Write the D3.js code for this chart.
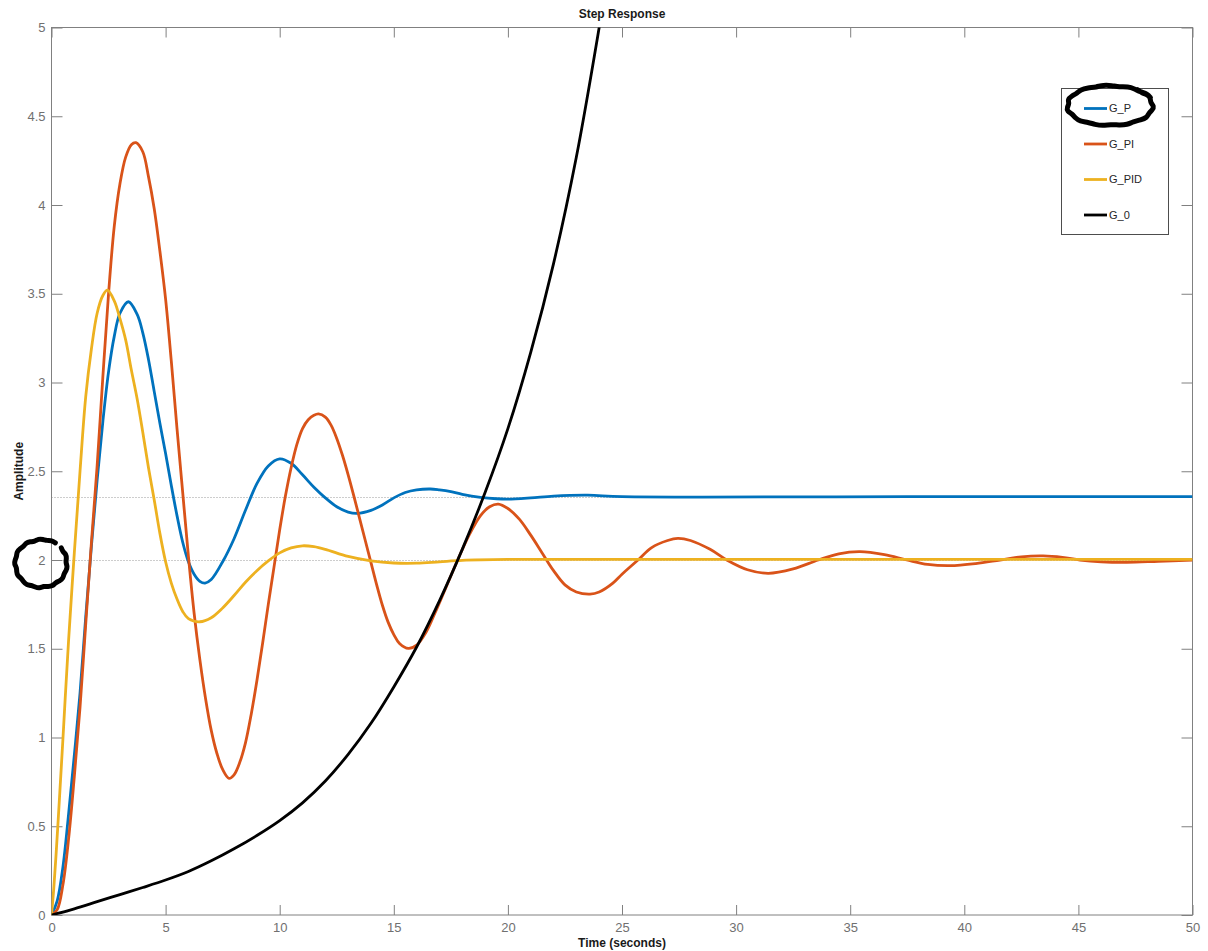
<!DOCTYPE html>
<html>
<head>
<meta charset="utf-8">
<script src="https://cdn.jsdelivr.net/npm/d3@7"></script>
<style>
  body { margin: 0; background: #fff; }
  svg { display: block; font-family: "Liberation Sans", Arial, sans-serif; }
</style>
</head>
<body>
<svg id="chart"></svg>
<script>
// step response samples: [time (s), amplitude]
const gP = [[0,0],[0.25,0.08],[0.5,0.27],[0.75,0.57],[1.0,0.90],[1.25,1.25],[1.5,1.68],[1.75,2.08],[2.0,2.45],[2.25,2.78],[2.5,3.06],[2.75,3.26],[3.0,3.39],[3.37,3.455],[3.75,3.385],[4.0,3.28],[4.25,3.13],[4.5,2.95],[4.75,2.77],[5.0,2.60],[5.25,2.42],[5.5,2.25],[5.75,2.10],[6.0,1.99],[6.25,1.92],[6.5,1.88],[6.73,1.87],[7.0,1.89],[7.5,1.99],[8.0,2.12],[8.5,2.28],[9.0,2.43],[9.5,2.53],[10.0,2.57],[10.5,2.545],[11.0,2.48],[11.5,2.41],[12.0,2.35],[12.5,2.30],[13.0,2.27],[13.4,2.263],[14.0,2.28],[14.5,2.31],[15.0,2.35],[15.5,2.38],[16.0,2.395],[16.6,2.40],[17.0,2.395],[17.5,2.385],[18.0,2.37],[18.8,2.353],[19.5,2.345],[20.0,2.343],[21.0,2.35],[22.0,2.36],[23.5,2.365],[25.0,2.357],[37.5,2.357],[50,2.357]];
const gPI = [[0,0],[0.25,0.03],[0.5,0.17],[0.75,0.43],[1.0,0.78],[1.25,1.17],[1.5,1.64],[1.75,2.10],[2.0,2.53],[2.25,3.03],[2.5,3.50],[2.75,3.88],[3.0,4.12],[3.25,4.27],[3.5,4.34],[3.7,4.351],[4.0,4.30],[4.25,4.16],[4.5,3.98],[4.75,3.74],[5.0,3.47],[5.25,3.12],[5.5,2.74],[5.75,2.38],[6.0,2.02],[6.25,1.70],[6.5,1.44],[6.75,1.22],[7.0,1.04],[7.25,0.91],[7.5,0.82],[7.78,0.77],[8.0,0.79],[8.25,0.86],[8.5,0.97],[8.75,1.13],[9.0,1.32],[9.25,1.53],[9.5,1.75],[9.75,1.96],[10.0,2.17],[10.25,2.36],[10.5,2.52],[10.75,2.65],[11.0,2.74],[11.25,2.79],[11.5,2.815],[11.7,2.823],[12.0,2.805],[12.25,2.76],[12.5,2.685],[12.75,2.59],[13.0,2.48],[13.25,2.36],[13.5,2.235],[13.75,2.11],[14.0,1.985],[14.25,1.86],[14.5,1.745],[14.75,1.65],[15.0,1.58],[15.25,1.53],[15.64,1.502],[16.0,1.52],[16.4,1.59],[16.8,1.70],[17.3,1.85],[17.8,2.0],[18.3,2.14],[18.8,2.25],[19.2,2.30],[19.58,2.315],[20.0,2.29],[20.5,2.23],[21.0,2.14],[21.5,2.04],[22.0,1.94],[22.5,1.86],[23.0,1.82],[23.6,1.808],[24.0,1.82],[24.6,1.87],[25.0,1.92],[25.7,2.0],[26.3,2.07],[27.0,2.11],[27.45,2.122],[28.0,2.11],[28.86,2.06],[29.59,2.0],[30.5,1.945],[31.41,1.925],[32.5,1.95],[33.6,2.0],[34.5,2.035],[35.43,2.047],[36.5,2.03],[37.48,2.0],[38.4,1.975],[39.37,1.968],[40.5,1.98],[41.56,2.0],[42.5,2.018],[43.46,2.023],[44.3,2.015],[45.07,2.0],[46.0,1.99],[47.12,1.987],[48.5,1.993],[50,2.0]];
const gPID = [[0,0],[0.1,0.15],[0.2,0.34],[0.3,0.55],[0.4,0.77],[0.5,0.99],[0.6,1.22],[0.75,1.55],[1.0,2.04],[1.25,2.50],[1.5,2.92],[1.75,3.19],[2.0,3.39],[2.25,3.49],[2.45,3.52],[2.75,3.46],[3.0,3.36],[3.25,3.24],[3.5,3.07],[3.75,2.91],[4.0,2.72],[4.25,2.52],[4.5,2.34],[4.75,2.15],[5.0,1.99],[5.25,1.87],[5.5,1.78],[5.75,1.71],[6.0,1.67],[6.5,1.652],[7.0,1.675],[7.5,1.73],[8.0,1.80],[8.5,1.875],[9.0,1.94],[9.5,1.995],[10.0,2.04],[10.5,2.068],[11.0,2.08],[11.5,2.075],[12.0,2.06],[13.0,2.02],[14.0,1.995],[15.0,1.983],[16.0,1.982],[17.0,1.99],[18.0,1.998],[20.0,2.003],[25.0,2.003],[37.5,2.003],[50,2.003]];
const g0 = [[0,0],[1,0.035],[2,0.075],[3,0.115],[4,0.155],[5,0.197],[6,0.245],[7,0.305],[8,0.373],[9,0.448],[10,0.532],[11,0.632],[12,0.755],[13,0.905],[14,1.08],[15,1.285],[16,1.51],[17,1.77],[18,2.06],[19,2.38],[20,2.74],[21,3.17],[22,3.67],[23,4.27],[24,5.0],[24.5,5.4]];
// steady state reference levels (dotted)
const steadyLevels = [2.357, 2.0];
const seriesNames = ["G_P", "G_PI", "G_PID", "G_0"];
const seriesData = [gP, gPI, gPID, g0];
const colors = ["#0072BD", "#D95319", "#EDB120", "#000000"];
const xTicks = [0, 5, 10, 15, 20, 25, 30, 35, 40, 45, 50];
const yTicks = [0, 0.5, 1, 1.5, 2, 2.5, 3, 3.5, 4, 4.5, 5];

const svgWidth = 1208, svgHeight = 951;
const margin = {top: 27.5, right: 15.5, bottom: 36, left: 51.5},
    width = svgWidth - margin.left - margin.right,
    height = svgHeight - margin.top - margin.bottom;
const axisColor = "#808080";

const chart = d3.select("#chart")
    .attr("width", svgWidth)
    .attr("height", svgHeight);

var xScale = d3.scaleLinear().domain([0, 50]).range([margin.left, margin.left + width]);
var yScale = d3.scaleLinear().domain([0, 5]).range([margin.top + height, margin.top]);

chart.append("clipPath").attr("id", "plotClip")
  .append("rect")
    .attr("x", margin.left).attr("y", margin.top)
    .attr("width", width).attr("height", height);

// dotted steady-state lines
chart.append("g").selectAll("line")
  .data(steadyLevels)
  .join("line")
    .attr("x1", xScale(0)).attr("x2", xScale(50))
    .attr("y1", d => Math.round(yScale(d)) + 0.5)
    .attr("y2", d => Math.round(yScale(d)) + 0.5)
    .attr("stroke", "#9a9a9a")
    .attr("stroke-width", 1)
    .attr("stroke-dasharray", "1,2");

// axes: ticks inward on all four sides
function styleAxis(g) {
  g.select(".domain").remove();
  g.selectAll(".tick line").attr("stroke", axisColor);
  g.selectAll(".tick text").attr("fill", "#707070").attr("font-size", 13);
}
chart.append("g")
  .attr("transform", `translate(0,${yScale(0)})`)
  .call(d3.axisBottom(xScale).tickValues(xTicks).tickSizeInner(-10).tickPadding(8).tickFormat(d3.format("d")))
  .call(styleAxis);
chart.append("g")
  .attr("transform", `translate(0,${yScale(5)})`)
  .call(d3.axisTop(xScale).tickValues(xTicks).tickSizeInner(-10).tickFormat(""))
  .call(styleAxis);
chart.append("g")
  .attr("transform", `translate(${xScale(0)},0)`)
  .call(d3.axisLeft(yScale).tickValues(yTicks).tickSizeInner(-11).tickPadding(6).tickFormat(d => String(d)))
  .call(styleAxis);
chart.append("g")
  .attr("transform", `translate(${xScale(50)},0)`)
  .call(d3.axisRight(yScale).tickValues(yTicks).tickSizeInner(-11).tickFormat(""))
  .call(styleAxis);

// box
chart.append("rect")
  .attr("x", xScale(0)).attr("y", yScale(5))
  .attr("width", xScale(50) - xScale(0)).attr("height", yScale(0) - yScale(5))
  .attr("fill", "none").attr("stroke", axisColor).attr("stroke-width", 1);

// response curves
var valueline = d3.line()
    .x(d => xScale(d[0]))
    .y(d => yScale(d[1]))
    .curve(d3.curveCatmullRom.alpha(0.5));

chart.append("g").attr("clip-path", "url(#plotClip)")
  .selectAll("path")
  .data(seriesData)
  .join("path")
    .attr("d", valueline)
    .attr("fill", "none")
    .attr("stroke", (d, i) => colors[i])
    .attr("stroke-width", 2.8)
    .attr("stroke-linejoin", "round");

// titles
chart.append("text")
  .attr("x", (xScale(0) + xScale(50)) / 2).attr("y", 18)
  .attr("text-anchor", "middle").attr("font-size", 12).attr("font-weight", "bold")
  .attr("fill", "#1a1a1a")
  .text("Step Response");
chart.append("text")
  .attr("x", (xScale(0) + xScale(50)) / 2).attr("y", 947)
  .attr("text-anchor", "middle").attr("font-size", 12).attr("font-weight", "bold")
  .attr("fill", "#1a1a1a")
  .text("Time (seconds)");
chart.append("text")
  .attr("transform", `translate(23,${(yScale(0) + yScale(5)) / 2}) rotate(-90)`)
  .attr("text-anchor", "middle").attr("font-size", 12).attr("font-weight", "bold")
  .attr("fill", "#1a1a1a")
  .text("Amplitude");

// legend
const legend = chart.append("g").attr("transform", "translate(1061,88)");
legend.append("rect")
  .attr("x", 0.5).attr("y", 0.5).attr("width", 107).attr("height", 146)
  .attr("fill", "#fff").attr("stroke", "#4d4d4d").attr("stroke-width", 1);
const items = legend.selectAll("g.item")
  .data(seriesNames)
  .join("g")
    .attr("class", "item")
    .attr("transform", (d, i) => `translate(0,${20.5 + i * 35.5})`);
items.append("line")
  .attr("x1", 23).attr("x2", 46)
  .attr("stroke", (d, i) => colors[i]).attr("stroke-width", 2.8);
items.append("text")
  .attr("x", 48).attr("dy", "0.36em")
  .attr("font-size", 11).attr("fill", "#262626")
  .text(d => d);

// hand-drawn marker circles (annotations)
const scribble = d3.line().curve(d3.curveBasis);
function loop(cx, cy, rx, ry, a0, a1, wob) {
  const pts = [];
  for (let k = 0; k <= 36; k++) {
    const a = a0 + (a1 - a0) * k / 36;
    const r = 1 + wob[k % wob.length];
    pts.push([cx + rx * r * Math.cos(a), cy + ry * r * Math.sin(a)]);
  }
  return pts;
}
const wobble = [0.02, -0.03, 0.04, 0.0, -0.05, 0.03, 0.01, -0.02, 0.05];
chart.append("path")
  .attr("d", scribble(loop(1110, 105.5, 43, 20, -0.9, -0.9 + 2 * Math.PI + 0.5, wobble)))
  .attr("fill", "none").attr("stroke", "#000").attr("stroke-width", 5).attr("stroke-linecap", "round");
chart.append("path")
  .attr("d", scribble(loop(41, yScale(2) + 3.5, 26, 24, -0.7, -0.7 + 2 * Math.PI - 0.3, wobble)))
  .attr("fill", "none").attr("stroke", "#000").attr("stroke-width", 5).attr("stroke-linecap", "round");
</script>
</body>
</html>
